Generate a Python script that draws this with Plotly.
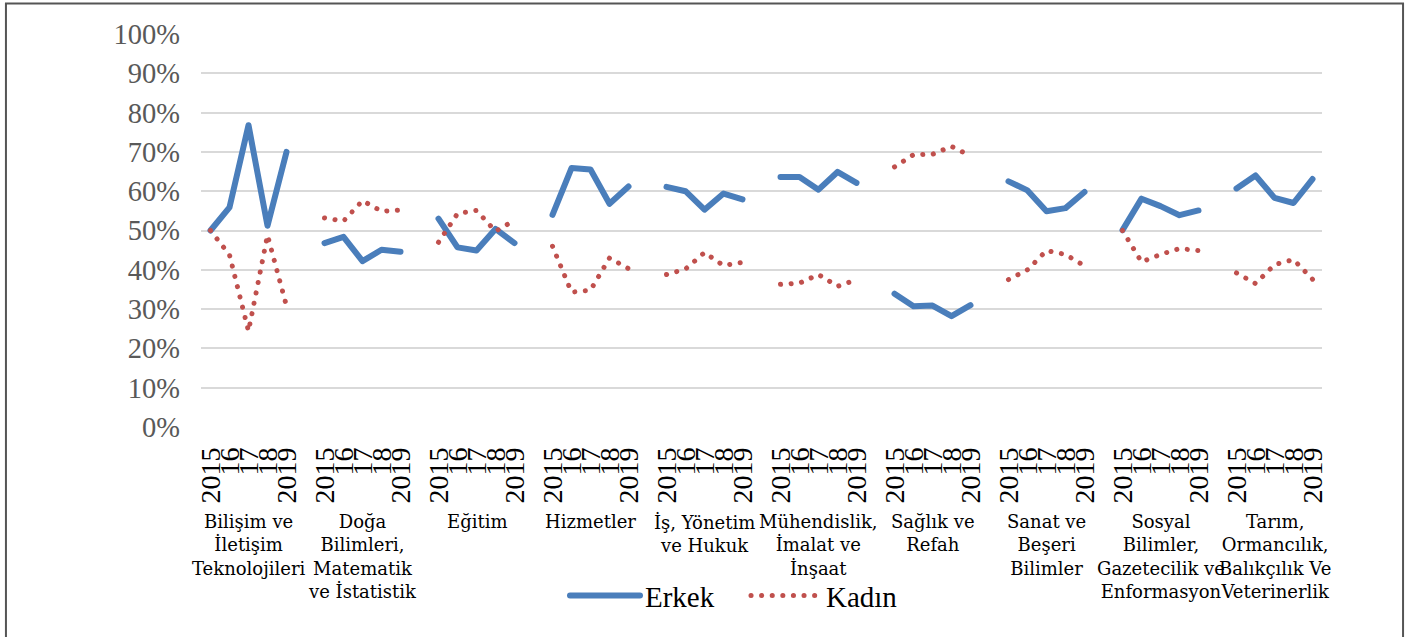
import plotly.graph_objects as go

categories = [
    "Bilişim ve<br>İletişim<br>Teknolojileri",
    "Doğa<br>Bilimleri,<br>Matematik<br>ve İstatistik",
    "Eğitim",
    "Hizmetler",
    "İş, Yönetim<br>ve Hukuk",
    "Mühendislik,<br>İmalat ve<br>İnşaat",
    "Sağlık ve<br>Refah",
    "Sanat ve<br>Beşeri<br>Bilimler",
    "Sosyal<br>Bilimler,<br>Gazetecilik ve<br>Enformasyon",
    "Tarım,<br>Ormancılık,<br>Balıkçılık Ve<br>Veterinerlik",
]
year_labels = ["2015", "16", "17", "18", "2019"]

erkek = [
    [50.0, 55.9, 76.8, 51.2, 70.0],
    [46.8, 48.4, 42.2, 45.1, 44.6],
    [53.0, 45.7, 44.9, 50.4, 46.8],
    [54.0, 65.9, 65.5, 56.8, 61.2],
    [61.1, 60.0, 55.3, 59.4, 57.9],
    [63.6, 63.6, 60.4, 64.9, 62.1],
    [33.9, 30.7, 30.9, 28.2, 31.0],
    [62.5, 60.2, 54.9, 55.7, 59.8],
    [50.1, 58.1, 56.2, 53.9, 55.1],
    [60.7, 64.0, 58.3, 57.0, 63.1],
]
kadin = [
    [50.0, 43.8, 24.4, 48.8, 30.8],
    [53.2, 52.4, 57.6, 54.9, 55.2],
    [47.0, 54.3, 55.1, 49.8, 52.6],
    [46.0, 34.3, 34.8, 43.0, 40.3],
    [38.8, 40.2, 44.4, 41.1, 41.9],
    [36.3, 36.6, 38.8, 35.8, 37.5],
    [66.2, 69.3, 69.4, 71.4, 69.0],
    [37.5, 40.0, 44.9, 43.9, 41.0],
    [50.0, 42.0, 43.9, 45.4, 44.9],
    [39.2, 36.5, 41.3, 42.6, 37.6],
]

SLOT = 6  # 5 years + 1 blank per group

def build(series):
    xs, ys = [], []
    for g, vals in enumerate(series):
        for i, v in enumerate(vals):
            xs.append(g * SLOT + i)
            ys.append(v / 100)
        xs.append(g * SLOT + 5)
        ys.append(None)
    return xs, ys

xe, ye = build(erkek)
xk, yk = build(kadin)

tickvals, ticktext = [], []
for g in range(len(categories)):
    for i, t in enumerate(year_labels):
        tickvals.append(g * SLOT + i)
        ticktext.append(t)

fig = go.Figure()
fig.add_trace(go.Scatter(
    x=xe, y=ye, mode="lines", name="Erkek",
    line=dict(color="#4A7EBB", width=6), connectgaps=False,
))
fig.add_trace(go.Scatter(
    x=xk, y=yk, mode="lines", name="Kadın",
    line=dict(color="#C0504D", width=5, dash="5px,6px"), connectgaps=False,
))

for g, c in enumerate(categories):
    fig.add_annotation(
        x=g * SLOT + 2, xref="x", y=-0.2077, yref="paper",
        text=c, showarrow=False, xanchor="center", yanchor="top",
        font=dict(family="DejaVu Serif", size=18, color="#000000"),
        align="center",
    )

# outer border
fig.add_shape(type="rect", xref="paper", yref="paper",
              x0=-0.174, x1=1.0723, y0=-0.56, y1=1.0776,
              line=dict(color="#555555", width=2), fillcolor="rgba(0,0,0,0)",
              layer="below")

fig.update_layout(
    width=1407, height=637,
    margin=dict(l=201, r=85, t=34, b=210),
    paper_bgcolor="white", plot_bgcolor="white",
    showlegend=True,
    legend=dict(
        orientation="h", x=0.3247, xanchor="left", y=-0.429, yanchor="middle",
        font=dict(family="Liberation Serif", size=29, color="#000000"),
        itemwidth=70, entrywidth=96, entrywidthmode="pixels",
        bgcolor="rgba(0,0,0,0)",
    ),
    xaxis=dict(
        range=[-0.5, len(categories) * SLOT - 1.5],
        tickmode="array", tickvals=tickvals, ticktext=ticktext,
        tickangle=-90, showgrid=False, zeroline=False, showline=False,
        ticks="", ticklabelstandoff=14,
        tickfont=dict(family="Liberation Serif", size=28, color="#000000"),
    ),
    yaxis=dict(
        range=[0, 1], dtick=0.1, tickformat=".0%",
        showgrid=True, gridcolor="#D9D9D9", gridwidth=1.5,
        zeroline=False, showline=False, ticks="",
        ticklabelstandoff=20,
        tickfont=dict(family="Liberation Serif", size=28.5, color="#595959"),
    ),
)

post = """
document.body.style.margin = '0px';
document.querySelectorAll('path.js-line').forEach(function(p){
  p.style.strokeLinecap = 'round';
  p.style.strokeLinejoin = 'round';
  var d = p.style.strokeDasharray;
  if (d && d !== 'none' && d !== '') {
    p.style.strokeDasharray = '0.1px,10.5px';
  }
});
"""

fig.write_html("out.html", post_script=post, config={"displayModeBar": False})
